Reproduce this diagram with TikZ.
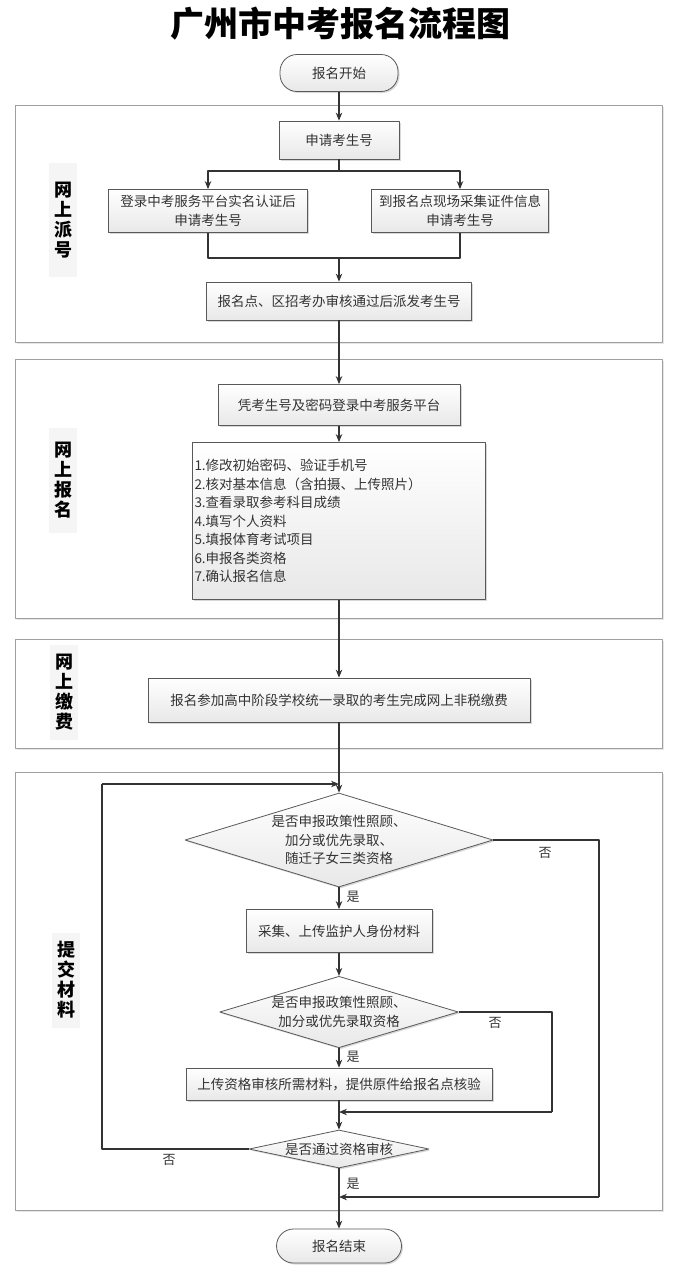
\documentclass[tikz,border=0pt]{standalone}
\usepackage{fontspec}
\setmainfont{Noto Sans CJK SC}
\usetikzlibrary{shapes.geometric,shadows,arrows.meta}
\begin{document}
\begin{tikzpicture}[x=1pt,y=-1pt,>={Stealth[length=8pt,width=6.5pt]},line join=round,
	every node/.style={font=\fontsize{13.5}{18.5}\selectfont,text=black!80},
	frame/.style={draw=gray!75,line width=1pt,fill=white,drop shadow={shadow xshift=1.5pt,shadow yshift=-1.5pt,opacity=.2}},
	box/.style={draw=black!65,line width=.8pt,top color=white,bottom color=gray!18,inner sep=2pt,align=center,
		drop shadow={shadow xshift=1.5pt,shadow yshift=-1.5pt,opacity=.3}},
	term/.style={box,rounded corners=17pt},
	dia/.style={box,shape=diamond,inner sep=0pt},
	lab/.style={fill=gray!8,minimum width=28,inner sep=0pt,align=center,text=black,font=\fontsize{18}{20}\selectfont\bfseries},
	line/.style={draw=black!80,line width=1.1pt},
	yn/.style={font=\fontsize{13}{15}\selectfont}]
	\useasboundingbox (0,0) rectangle (679,1280);
	\node[font=\fontsize{34}{38}\selectfont\bfseries,text=black] (title) at (340,24) {广州市中考报名流程图};
	%分区框
	\foreach \t/\b in {105/342,359/618,639/748,772/1210}
	\draw[frame] (15,\t) rectangle (662,\b);
	\node[lab,minimum height=114] (labA) at (63,220) {网\\上\\派\\号};
	\node[lab,minimum height=105] (labB) at (63,480) {网\\上\\报\\名};
	\node[lab,minimum height=95] (labC) at (64,692) {网\\上\\缴\\费};
	\node[lab,minimum height=95] (labD) at (66,980) {提\\交\\材\\料};
	%流程节点
	\node[term,minimum width=118,minimum height=37] (start) at (339,73) {报名开始};
	\node[box,minimum width=120,minimum height=38] (apply) at (339,140) {申请考生号};
	\node[box,minimum width=199,minimum height=43] (online) at (208,211) {登录中考服务平台实名认证后\\申请考生号};
	\node[box,minimum width=177,minimum height=43] (onsite) at (460,211) {到报名点现场采集证件信息\\申请考生号};
	\node[box,minimum width=265,minimum height=38] (assign) at (339,301) {报名点、区招考办审核通过后派发考生号};
	\node[box,minimum width=242,minimum height=41] (login) at (339,405) {凭考生号及密码登录中考服务平台};
	\node[box,minimum width=293,minimum height=157,text width=289,align=left] (tasks) at (339,521)
	{1.修改初始密码、验证手机号\\2.核对基本信息（含拍摄、上传照片）\\3.查看录取参考科目成绩\\4.填写个人资料\\5.填报体育考试项目\\6.申报各类资格\\7.确认报名信息};
	\node[box,minimum width=382,minimum height=44] (pay) at (339,700) {报名参加高中阶段学校统一录取的考生完成网上非税缴费};
	\node[dia,minimum width=308,minimum height=94,aspect=3.28] (q1) at (339,840) {是否申报政策性照顾、\\加分或优先录取、\\随迁子女三类资格};
	\node[box,minimum width=186,minimum height=43] (upload) at (339,931) {采集、上传监护人身份材料};
	\node[dia,minimum width=237,minimum height=71,aspect=3.34] (q2) at (339,1012) {是否申报政策性照顾、\\加分或优先录取资格};
	\node[box,minimum width=306,minimum height=32] (submit) at (339,1084) {上传资格审核所需材料，提供原件给报名点核验};
	\node[dia,minimum width=180,minimum height=38,aspect=4.74] (q3) at (339,1149) {是否通过资格审核};
	\node[term,minimum width=125,minimum height=34] (finish) at (339,1246) {报名结束};
	%连接点
	\path (339,171) coordinate (split) (339,258) coordinate (merge)
	(102,784) coordinate (loopC) (339,784) coordinate (loopT)
	(599,1197) coordinate (noA) (339,1197) coordinate (joinA)
	(552,1112) coordinate (noB) (339,1112) coordinate (joinB);
	\draw[line,->] (start)--(apply);
	\draw[line] (apply)--(split);
	\draw[line,->] (split)-|(online);
	\draw[line,->] (split)-|(onsite);
	\draw[line] (online)|-(merge) (onsite)|-(merge);
	\draw[line,->] (merge)--(assign);
	\draw[line,->] (assign)--(login);
	\draw[line,->] (login)--(tasks);
	\draw[line,->] (tasks)--(pay);
	\draw[line,->] (pay)--(q1);
	\draw[line,->] (q1)--(upload);
	\draw[line,->] (upload)--(q2);
	\draw[line,->] (q2)--(submit);
	\draw[line,->] (submit)--(q3);
	\draw[line,->] (q3)--(finish);
	\draw[line] (q1.east)-|(noA);
	\draw[line,->] (noA)--(joinA);
	\draw[line] (q2.east)-|(noB);
	\draw[line,->] (noB)--(joinB);
	\draw[line] (q3.west)-|(loopC);
	\draw[line,->] (loopC)--(loopT);
	%是/否
	\foreach \y in {897,1057,1184}\node[yn] at (353,\y) {是};
	\foreach \x/\y in {545/853,495/1023,169/1160}\node[yn] at (\x,\y) {否};
\end{tikzpicture}
\end{document}
